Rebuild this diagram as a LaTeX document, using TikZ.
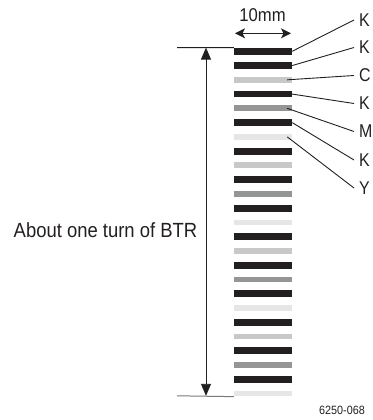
\documentclass[tikz,border=0pt]{standalone}
\usepackage{fontspec}
\setmainfont{Liberation Sans}
\newfontfamily\condfont[FakeStretch=0.9]{Liberation Sans}
\newfontfamily\letterfont[FakeStretch=0.86]{Liberation Sans}
\usetikzlibrary{arrows.meta,calc}
\definecolor{ink}{HTML}{231F20}
\definecolor{cyanish}{HTML}{C8C8C8}
\definecolor{magish}{HTML}{959595}
\definecolor{yelish}{HTML}{E6E6E6}
\definecolor{basegray}{HTML}{7A7A7A}
\begin{document}
\begin{tikzpicture}[x=1pt,y=-1pt,
  bar/.style={rectangle,inner sep=0pt,minimum width=58pt,draw=none},
  barK/.style={bar,fill=ink,minimum height=6.8pt},
  barC/.style={bar,fill=cyanish,minimum height=5.8pt},
  barM/.style={bar,fill=magish,minimum height=5.8pt},
  barY/.style={bar,fill=yelish,minimum height=5.8pt},
  letter/.style={anchor=west,inner sep=0pt,outer sep=5pt,font=\letterfont\fontsize{18.5}{20}\selectfont,text=ink},
  leader/.style={draw=ink,line width=0.9pt},
  thin/.style={draw=ink,line width=0.9pt},
  bigtip/.style={-{Triangle[length=12pt,width=10pt]}},
]
\useasboundingbox (0,0) rectangle (372,420);
% stripes
\foreach \c [count=\i] in {K,K,C,K,M,K,Y,K,C,K,M,K,Y,K,C,K,M,K,Y,K,C,K,M,K,Y}{
  \node[bar\c] (s\i) at (263,{51.3+14.26*(\i-1)}) {};
}
% letters
\node[letter] (l1) at (354,20) {K};
\node[letter] (l2) at (354,47.5) {K};
\node[letter] (l3) at (354,75.5) {C};
\node[letter] (l4) at (354,103.5) {K};
\node[letter] (l5) at (354,131.5) {M};
\node[letter] (l6) at (354,160) {K};
\node[letter] (l7) at (354,188) {Y};
\draw[leader] (s1.east) -- (l1.west);
\draw[leader] (s2.east) -- (l2.west);
\draw[leader] ([xshift=-5pt]s3.east) -- (l3.west);
\draw[leader] (s4.east) -- (l4.west);
\draw[leader] ([xshift=-5pt]s5.east) -- (l5.west);
\draw[leader] (s6.east) -- (l6.west);
\draw[leader] ([xshift=-5pt]s7.east) -- (l7.west);
% top and bottom marks
\coordinate (tl) at (177,47.6);
\coordinate (bl) at (177,395.8);
\draw[thin] (tl) -- (s1.north west);
\draw[draw=basegray,line width=1pt] (bl) -- (s25.south west);
\coordinate (ta) at (206,47.6);
\coordinate (ba) at (206,395.8);
\draw[thin,bigtip] ($(ta)!0.5!(ba)$) -- (ta);
\draw[thin,bigtip] ($(ta)!0.5!(ba)$) -- (ba);
% 10 mm
\coordinate (wa) at (235,33.3);
\coordinate (wb) at (291,33.3);
\draw[thin,{Stealth[length=10pt,width=10pt,inset=2.5pt]}-{Stealth[length=10pt,width=10pt,inset=2.5pt]}] (wa) -- (wb);
\node[inner sep=0pt,font=\condfont\fontsize{18.5}{20}\selectfont,text=ink] (mm) at (262.5,15) {10mm};
% labels
\node[inner sep=0pt,font=\condfont\fontsize{20.5}{22}\selectfont,text=ink] (turn) at (105.5,230) {About one turn of BTR};
\node[inner sep=0pt,font=\condfont\fontsize{12}{13}\selectfont,text=ink] (code) at (342,410) {6250-068};
\end{tikzpicture}
\end{document}
